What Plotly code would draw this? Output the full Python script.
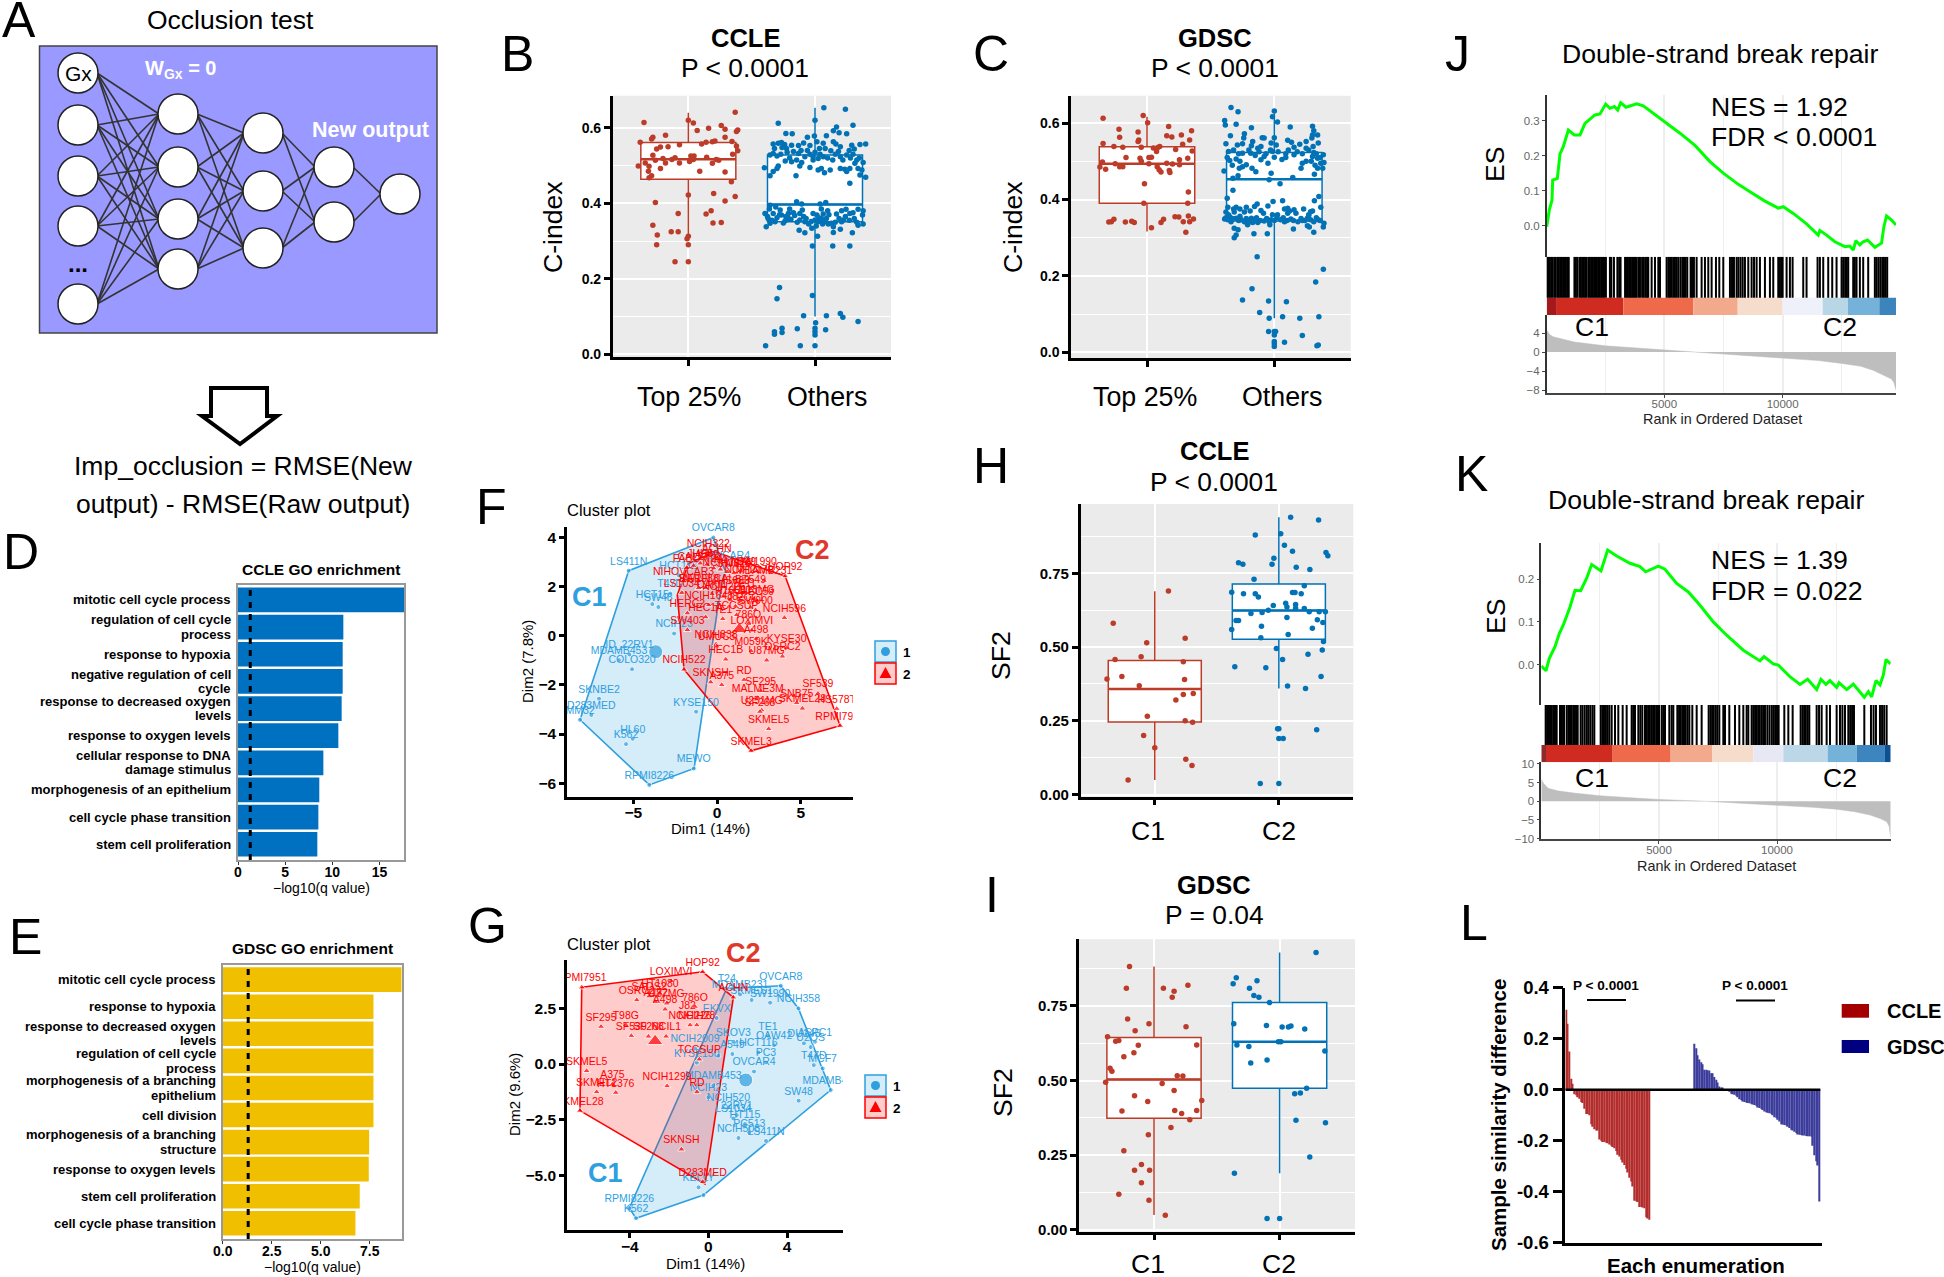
import plotly.graph_objects as go

W, H = 1944, 1277
FONT = "Liberation Sans"
RED, BLUE = "#BC3C29", "#0072B5"
CRED, CBLUE = "#FF0000", "#2E9FDF"

# ---------- B: C-index CCLE (jitter offset from category, value)
B_TOP = [(.37,.641),(-.35,.614),(0,.62),(.04,.613),(.07,.593),(.16,.599),(.26,.606),(.29,.596),(.39,.594),(.38,.59),(-.18,.58),(-.28,.575),(-.29,.57),(.29,.575),(-.38,.562),(-.22,.549),(-.25,.544),(-.16,.55),(-.07,.555),(.105,.557),(.14,.562),(.19,.563),(.21,.565),(.345,.564),(.38,.552),(.39,.539),(.35,.53),(-.28,.527),(-.26,.514),(-.2,.519),(-.13,.516),(-.105,.521),(.02,.525),(.045,.525),(.04,.516),(.01,.511),(.145,.522),(.22,.516),(.24,.514),(.19,.506),(-.18,.507),(-.07,.507),(-.34,.507),(-.395,.499),(-.31,.498),(-.22,.492),(-.315,.485),(.09,.485),(.29,.483),(-.29,.473),(-.31,.468),(.34,.457),(-.26,.402),(0,.422),(.2,.426),(.37,.418),(.29,.406),(-.08,.373),(.18,.38),(.14,.372),(.195,.348),(.26,.349),(-.28,.342),(-.245,.316),(-.135,.325),(-.08,.325),(0,.313),(-.01,.306),(-.25,.29),(0,.29),(-.105,.245),(0,.245)]
B_OTH = [(-.39,.023),(-.116,.023),(0,.023),(0,.051),(0,.06),(0,.069),(.005,.084),(.084,.065),(.34,.087),(.22,.098),(.2,.108),(.09,.102),(-.09,.102),(-.14,.068),(-.26,.069),(-.26,.058),(-.32,.06),(-.32,.053),(-.3,.147),(-.28,.177),(-.02,.156),
(.07,.653),(.24,.649),(0,.62),(-.29,.612),(.3,.607),(.17,.602),(.145,.592),(.19,.587),(.25,.584),(-.23,.585),(-.18,.584),(.09,.579),(-.005,.578),(-.06,.575),
(-.33,.557),(-.29,.559),(-.265,.561),(-.24,.556),(-.225,.545),(-.185,.554),(-.13,.553),(-.04,.553),(.015,.563),(.035,.545),(.065,.559),(.145,.563),(.165,.557),(.29,.554),(.31,.544),(.355,.556),(.4,.557),(.125,.539),
(-.355,.528),(-.33,.532),(-.17,.537),(-.13,.532),(-.08,.523),(-.04,.53),(-.015,.523),(.025,.519),(.065,.523),(.185,.537),(.2,.523),(.25,.528),(.33,.515),(-.235,.512),(-.185,.51),(-.145,.515),(-.105,.508),(-.015,.515),(.315,.506),(.38,.508),
(-.4,.494),(-.3,.492),(-.29,.499),(-.12,.499),(-.04,.495),(.025,.488),(.05,.492),(.075,.481),(.12,.488),(.2,.492),(.235,.49),(.25,.484),(.275,.492),(.34,.492),(.37,.488),(.4,.469),(.355,.475),(-.33,.484),(-.355,.473),(-.15,.473),(.275,.453),
(-.145,.404),(-.105,.398),(.04,.398),(.085,.402),(-.355,.395),
(-.395,.373),(-.375,.365),(-.33,.373),(-.275,.382),(-.265,.369),(-.21,.373),(-.17,.375),(-.12,.373),(-.09,.365),(-.015,.373),(.015,.369),(.065,.372),(.17,.372),(.245,.384),(.275,.373),(.3,.375),(.34,.384),(.38,.38),(.375,.369),
(-.385,.338),(-.355,.347),(-.315,.351),(-.235,.354),(-.21,.36),(-.12,.356),(-.08,.351),(-.05,.345),(0,.356),(.025,.351),(.05,.36),(.08,.351),(.105,.345),(.145,.338),(.13,.347),(.21,.351),(.225,.356),(.34,.342),(.38,.345),
(-.125,.329),(-.08,.322),(-.025,.334),(.02,.313),(.145,.323),(.2,.331),(.295,.322),(-.02,.287),(.14,.287),(.275,.287),
(-.37,.36),(-.34,.355),(-.3,.362),(-.28,.37),(-.25,.348),(-.23,.365),(-.19,.358),(-.16,.368),(-.14,.35),(-.07,.36),(-.03,.352),(.01,.34),(.03,.362),(.06,.345),(.09,.36),(.11,.37),(.16,.35),(.19,.36),(.24,.365),(.27,.355),(.31,.36),(.33,.35),(-.36,.385),(-.31,.39),(-.2,.385),(-.1,.382),(.05,.385),(.1,.38),(.21,.38),
(-.3,.525),(-.27,.53),(-.22,.535),(-.2,.52),(-.11,.54),(-.06,.54),(0,.535),(.04,.53),(.1,.52),(.14,.515),(.16,.53),(.22,.515),(.28,.52),(.3,.53),(.35,.52),(-.32,.545),(-.26,.548),(-.09,.56),(.08,.545),(.2,.55),(.27,.54)]
B_BOX = [dict(q3=.561, med=.517, q1=.464, hi=.64, lo=.31), dict(q3=.528, med=.397, q1=.351, hi=.653, lo=.1)]

# ---------- C: C-index GDSC
C_TOP = [(-.345,.613),(-.03,.62),(.005,.601),(.17,.591),(-.22,.584),(.35,.58),(-.07,.577),(-.215,.563),(.155,.567),(.195,.564),(.27,.569),(-.065,.556),(-.07,.552),(.335,.556),(-.345,.547),(.28,.545),(-.26,.539),(-.19,.537),(-.045,.537),(.1,.539),(.085,.536),(.05,.535),(.075,.526),(.225,.531),(.355,.527),(-.165,.51),(-.055,.508),(.035,.511),(.015,.51),(.32,.508),(.255,.504),(-.35,.498),(-.25,.494),(-.045,.5),(.015,.494),(.155,.495),(.2,.493),(.255,.491),(-.37,.485),(-.215,.486),(-.19,.486),(.08,.486),(.095,.478),(.11,.472),(.175,.476),(.18,.471),(-.325,.479),(-.02,.441),(.325,.42),(-.025,.39),(.32,.39),(-.3,.341),(-.28,.342),(-.26,.348),(-.17,.341),(-.12,.343),(-.1,.34),(.035,.326),(.11,.34),(.13,.348),(.22,.355),(.25,.354),(.285,.342),(.325,.357),(.365,.349),(.335,.342),(.305,.314)]
C_OTH = [(.385,.217),(.325,.184),(-.135,.25),(-.175,.166),(-.25,.137),(-.045,.134),(.095,.132),(-.115,.104),(-.04,.089),(.065,.093),(.2,.089),(.35,.093),(-.045,.054),(0,.054),(.01,.054),(0,.045),(.22,.044),(0,.028),(0,.022),(0,.015),(.08,.026),(.345,.019),(.335,.017),
(-.34,.641),(-.285,.63),(0,.632),(-.015,.617),(-.39,.607),(-.385,.595),(-.3,.597),(.025,.603),(-.18,.588),(.125,.59),(.3,.592),(.31,.58),(.34,.569),(.3,.569),(.295,.561),(-.235,.572),(-.345,.567),(-.24,.561),(-.17,.552),(-.095,.562),(-.08,.561),(0,.562),(.105,.555),(.135,.55),(.2,.545),(.25,.552),(.345,.548),(-.38,.546),(-.29,.543),(-.25,.546),(-.18,.541),(-.13,.534),(-.105,.539),(-.025,.548),(.015,.543),(.155,.537),(.25,.534),(.305,.539),
(-.36,.526),(-.185,.521),(-.25,.521),(-.065,.52),(-.015,.526),(.09,.52),(.155,.517),(.22,.52),(.31,.523),(.385,.517),(.34,.508),(-.35,.502),(-.3,.506),(-.105,.504),(-.08,.513),(.09,.51),(0,.511),(.22,.495),(.3,.513),(.39,.497),(.365,.495),
(-.22,.491),(-.25,.486),(-.275,.482),(-.175,.482),(-.05,.495),(.21,.482),(.34,.482),(.38,.482),(-.395,.475),(-.145,.473),(-.025,.469),(.315,.466),(-.285,.462),(-.325,.456),(-.04,.452),(.145,.458),(.045,.441),(-.325,.424),(-.37,.403),(.35,.408),(.315,.397),(.065,.397),(-.01,.395),(-.05,.383),
(-.365,.38),(-.3,.38),(-.22,.38),(-.155,.382),(-.135,.388),(.365,.38),(.105,.377),(-.38,.367),(-.315,.367),(-.235,.367),(-.105,.371),(-.085,.364),(.155,.373),(.17,.364),(.285,.368),(.27,.36),(-.015,.36),(.025,.36),(.105,.364),
(-.39,.349),(-.365,.347),(-.34,.342),(-.3,.351),(-.26,.347),(-.235,.342),(-.21,.336),(-.18,.351),(-.155,.347),(-.13,.34),(-.08,.344),(-.025,.347),(.05,.347),(.08,.342),(.13,.349),(.185,.342),(.22,.345),(.26,.351),(.285,.347),(.31,.342),(.345,.347),(.39,.338),(.385,.328),
(-.315,.325),(-.285,.321),(-.21,.334),(.15,.323),(.26,.331),(.275,.328),(.31,.314),(-.16,.31),(-.055,.31),(-.3,.307),(-.315,.3),(-.035,.334),
(-.38,.352),(-.35,.355),(-.33,.35),(-.28,.345),(-.27,.356),(-.22,.35),(-.2,.345),(-.17,.34),(-.14,.352),(-.11,.345),(-.06,.35),(-.04,.342),(0,.345),(.02,.352),(.07,.352),(.1,.345),(.15,.345),(.21,.35),(.24,.345),(.27,.358),(.33,.352),(.36,.345),(-.36,.36),(-.32,.375),(-.27,.375),(-.19,.37),(.08,.375),(.12,.37),(.23,.375),(.3,.37),
(-.32,.53),(-.28,.52),(-.2,.53),(-.15,.515),(-.12,.525),(-.03,.53),(.03,.525),(.06,.505),(.11,.53),(.18,.525),(.27,.53),(.29,.5),(.33,.52),(.36,.51),(-.37,.51),(-.33,.49),(-.27,.5),(.25,.5),(.32,.49)]
C_BOX = [dict(q3=.538, med=.494, q1=.39, hi=.617, lo=.316), dict(q3=.523, med=.453, q1=.344, hi=.626, lo=.089)]
GROUPS_TOP = ["Top 25%", "Others"]

# ---------- H / I: SF2
H_C1 = [(.11,.69),(-.335,.581),(-.065,.515),(.245,.53),(-.32,.458),(-.11,.467),(.23,.45),(-.385,.392),(-.265,.4),(.24,.39),(-.125,.369),(.31,.343),(.23,.339),(.17,.321),(-.06,.266),(.245,.25),(.305,.245),(-.09,.2),(0,.159),(.25,.12),(.3,.099),(-.215,.05)]
H_C2 = [(.095,.94),(.32,.931),(-.19,.88),(.015,.884),(.045,.845),(.11,.825),(.38,.821),(.395,.81),(-.04,.801),(-.325,.786),(-.29,.781),(-.055,.781),(.14,.771),(.25,.763),(-.2,.73),(.205,.708),(-.38,.686),(-.285,.681),(-.19,.681),(-.165,.67),(.11,.685),(.13,.685),(.18,.681),(-.045,.641),(.055,.649),(.065,.636),(.135,.644),(.135,.632),(.205,.631),(-.085,.625),(-.225,.614),(-.135,.617),(.245,.62),(.325,.62),(.375,.62),(.065,.6),(.31,.593),(-.345,.59),(-.325,.59),(.355,.583),(-.14,.571),(-.38,.56),(.27,.564),(-.145,.532),(.075,.543),(.36,.519),(-.02,.495),(.35,.49),(.235,.476),(.03,.458),(-.355,.433),(-.105,.43),(.34,.4),(.07,.368),(.215,.36),(-.01,.223),(0,.223),(.305,.22),(0,.19),(.035,.19),(-.15,.038),(0,.038)]
H_BOX = [dict(q3=.455, med=.358, q1=.246, hi=.689, lo=.05), dict(q3=.714, med=.624, q1=.527, hi=.94, lo=.36)]
I_C1 = [(-.195,.882),(.27,.819),(-.22,.809),(.075,.809),(.16,.799),(.145,.779),(-.21,.706),(-.04,.69),(.255,.68),(-.15,.667),(-.37,.647),(-.305,.632),(-.28,.634),(-.125,.618),(.34,.619),(-.16,.593),(-.24,.58),(-.35,.541),(-.335,.531),(.185,.516),(.23,.515),(-.385,.494),(.065,.49),(.16,.467),(-.155,.449),(.38,.433),(-.05,.43),(-.255,.398),(.165,.4),(.34,.4),(.22,.39),(.285,.369),(.135,.343),(-.045,.319),(-.24,.265),(-.1,.219),(-.155,.2),(-.035,.2),(-.1,.158),(-.28,.119),(-.04,.099),(.09,.049)]
I_C2 = [(.29,.929),(-.345,.844),(-.18,.834),(-.37,.824),(-.24,.809),(-.205,.785),(-.165,.779),(-.08,.761),(-.365,.69),(-.105,.684),(.02,.679),(.07,.679),(.09,.683),(.2,.673),(-.01,.63),(.01,.63),(-.34,.619),(-.245,.614),(.36,.599),(-.1,.569),(-.23,.559),(.215,.474),(.165,.458),(.12,.456),(.13,.367),(.365,.359),(.24,.244),(-.36,.19),(-.1,.038),(0,.038)]
I_BOX = [dict(q3=.644, med=.504, q1=.374, hi=.882, lo=.05), dict(q3=.761, med=.63, q1=.474, hi=.929, lo=.19)]
GROUPS_C = ["C1", "C2"]

# ---------- D / E: GO enrichment
D_TERMS = ["mitotic cell cycle process","regulation of cell cycle<br>process","response to hypoxia","negative regulation of cell<br>cycle","response to decreased oxygen<br>levels","response to oxygen levels","cellular response to DNA<br>damage stimulus","morphogenesis of an epithelium","cell cycle phase transition","stem cell proliferation"]
D_VALS = [17.6,11.17,11.1,11.1,10.99,10.64,9.05,8.62,8.52,8.41]
E_TERMS = ["mitotic cell cycle process","response to hypoxia","response to decreased oxygen<br>levels","regulation of cell cycle<br>process","morphogenesis of a branching<br>epithelium","cell division","morphogenesis of a branching<br>structure","response to oxygen levels","stem cell proliferation","cell cycle phase transition"]
E_VALS = [9.13,7.69,7.69,7.69,7.69,7.69,7.47,7.45,6.99,6.77]
Q_CUTOFF = 1.3

# ---------- F / G: cluster plots (name, Dim1, Dim2)
F_C1 = [("OVCAR8",-.22,4.0),("LS411N",-5.27,2.65),("HCT116",-2.3,2.47),("T47D",-2.8,1.72),("HCT15",-3.86,1.29),("SW48",-3.5,1.17),("NCIH23",-2.56,.09),("ID_22RV1",-5.23,-.76),("MDAMB453",-5.85,-.99),("COLO320",-5.07,-1.36),("SKNBE2",-7.04,-2.56),("D283MED",-7.5,-3.22),("MM32",-8.17,-3.42),("HL60",-5.03,-4.19),("K562",-5.43,-4.41),("KYSE150",-1.25,-3.09),("MEWO",-1.39,-5.4),("RPMI8226",-4.04,-6.07),("OVCAR4",.68,2.88),("",.08,1.32)]
F_C2 = [("NCIH322",-.52,3.38),("ACHN",-.02,3.18),("FADU",-1.81,2.77),("NIHOVCAR3",-2.0,2.22),("SW1990",2.37,2.63),("HOP92",4.06,2.43),("NCIH596",4.02,.73),("HERC2",-1.77,.92),("HEC1A",-.68,.76),("SW403",-1.77,.24),("TCCSUP",1.17,.85),("TE1",.34,.69),("786O",1.87,.49),("LOXIMVI",2.07,.22),("NCIH838",-.06,-.34),("UMUC3",-.02,-.43),("A498",2.33,-.12),("KYSE30",4.15,-.5),("M059K",2.03,-.62),("OSRC2",3.9,-.84),("HEC1B",.52,-.96),("U87MG",2.96,-1.0),("NCIH522",-1.97,-1.37),("SKNSH",-.38,-1.89),("A375",.28,-2.0),("RD",1.61,-1.79),("SF295",2.6,-2.24),("MALME3M",2.43,-2.52),("SF539",6.02,-2.35),("SNB75",4.75,-2.73),("SKMEL28",5.09,-2.96),("HS578T",7.14,-2.97),("U251MG",2.66,-3.03),("SF268",2.56,-3.09),("RPMI7951",7.34,-3.66),("SKMEL5",3.08,-3.79),("SKMEL3",2.03,-4.68),
("CAL27",-1.4,2.85),("JHH5",-1,2.95),("A549",-.6,2.9),("T24",-.2,2.75),("H4",.2,2.7),("NCIH1975",.6,2.6),("SW620",1,2.55),("LN229",1.4,2.65),("MDAMB231",2.8,2.25),("NCIH2170",1.9,2.3),("SW1088",-1.1,1.95),("RERFLCAI",-.7,1.95),("LS1034",-2.1,1.75),("CAKI1",-.3,1.7),("NCIH226",.4,1.6),("HS683",1.0,1.85),("TE11",1.6,1.75),("BT549",2,1.9),("U118MG",2.2,1.5),("HEC59",2.4,1.4),("NCIH1648",-.5,1.25),("J82",1.1,1.2),("H1650",.8,1.45),("ECC1",2.0,1.15),("SW900",2.3,1.05)]
F_HULL1 = [(-.22,4.0),(-5.27,2.65),(-8.17,-3.42),(-4.04,-6.07),(-1.37,-5.4),(.08,1.32),(.48,2.67)]
F_HULL2 = [(4.06,2.43),(7.34,-3.66),(2.03,-4.68),(-1.97,-1.37),(-2.37,1.66),(-1.71,2.94),(-.12,3.42)]
F_CENTERS = [(-3.66,-.65),(1.33,.27)]
G_C2 = [("HOP92",-.29,4.15),("LOXIMVI",-1.9,3.74),("RPMI7951",-6.44,3.45),("HT1080",-2.46,3.18),("SAOS2",-3.02,3.05),("OSRC2",-3.64,2.88),("U87MG",-2.12,2.73),("A172",-2.68,2.8),("A498",-2.2,2.46),("786O",-.68,2.58),("J82",-1.07,2.2),("NCIH226",-.93,1.75),("NCIH28",-.59,1.75),("T98G",-4.2,1.76),("SF295",-5.46,1.68),("SF539",-3.92,1.27),("SF268",-3.05,1.24),("NCIL1",-2.15,1.24),("TCCSUP",-.46,.21),("SKMEL5",-6.19,-.31),("A375",-4.88,-.91),("SKMEL2",-5.68,-1.26),("HT1376",-4.71,-1.29),("NCIH1299",-2.1,-.99),("RD",-.58,-1.26),("SKMEL28",-6.53,-2.1),("SKNSH",-1.37,-3.84),("D283MED",-.29,-5.3),("ACHN",1.27,3.0)]
G_C1 = [("T24",.93,3.4),("MDAMB231",1.61,3.13),("OVCAR8",3.68,3.52),("SW1990",3.14,2.76),("SKMES1",2.2,2.88),("NCIH358",4.58,2.5),("EKVX",.42,2.07),("SKOV3",1.27,1.0),("TE1",3.03,1.27),("OAW42",3.34,.85),("DU145",4.86,.93),("ASPC1",5.42,1.0),("U2OS",5.2,.76),("NCIH2009",-.68,.7),("HCT116",2.54,.52),("A549",1.22,.45),("PC3",2.93,.07),("T47D",5.36,-.05),("MCF7",5.81,-.2),("KYSE150",-.59,.06),("",.51,.37),("OVCAR4",2.32,-.34),("MDAMB468",6.22,-1.17),("MDAMB453",.25,-.97),("SW48",4.59,-1.65),("NCIH23",0,-1.5),("NCIH520",1.02,-1.95),("22RV1",1.44,-2.3),("LS1034",1.27,-2.45),("HT115",1.86,-2.7),("PC513",2.08,-3.09),("LS411N",2.93,-3.46),("NCIH508",1.53,-3.33),("KELLY",-.5,-5.55),("RPMI8226",-4.02,-6.49),("K562",-3.68,-6.94),("",-.25,-5.9)]
G_HULL1 = [(.93,3.4),(3.68,3.52),(4.58,2.5),(6.22,-1.17),(-.25,-5.9),(-3.68,-6.94),(-4.02,-6.49)]
G_HULL2 = [(-6.44,3.45),(-.29,4.15),(1.27,3.0),(-.17,-5.4),(-6.53,-2.1)]
G_CENTERS = [(1.9,-.72),(-2.71,1.03)]

# ---------- J / K: GSEA
J_ES_RANK = [28,140,253,281,478,591,732,943,1197,1436,1647,2069,2280,2520,2703,2886,3027,3154,3379,3829,4110,4533,5096,5659,6293,6927,7491,8124,8617,9251,9814,10026,10448,11010,11503,11574,11855,12207,12630,12841,12982,13094,13263,13404,13587,13897,14179,14278,14390,14601,14789]
J_ES = [-.003,.045,.073,.13,.135,.205,.226,.273,.259,.259,.292,.316,.319,.347,.335,.34,.33,.351,.338,.348,.342,.321,.292,.264,.229,.183,.15,.118,.097,.07,.05,.054,.035,.005,-.027,-.014,-.027,-.046,-.06,-.058,-.07,-.043,-.055,-.046,-.041,-.062,-.05,-.003,.028,.016,.002]
J_HITS = [40,100,160,220,280,352,408,480,540,600,660,720,780,840,900,960,1200,1260,1320,1410,1470,1530,1590,1650,1710,1790,1850,1910,1970,2030,2090,2150,2210,2270,2330,2390,2450,2530,2700,2760,2870,3015,3090,3150,3340,3400,3460,3520,3580,3640,3700,3760,3820,3900,3970,4060,4130,4200,4270,4320,4463,4604,4745,4815,5096,5170,5240,5310,5378,5448,5520,5590,5680,5760,5830,5900,5969,6110,6170,6250,6364,6575,6716,6857,6998,7181,7322,7491,7773,7860,7942,8054,8130,8220,8310,8406,8547,8688,8790,8899,9040,9251,9462,9603,9814,9880,9940,10000,10166,10307,10420,10870,11010,11475,11574,11715,11926,12095,12278,12490,12560,12640,12710,12771,12982,13050,13122,13263,13404,13615,13897,13970,14050,14130,14210,14280,14350,14418]
J_STRIP_EDGES = [28,423,3268,6225,8099,10000,11690,12761,14085,14789]
J_STRIP_COLORS = ["#a5191c","#cf2b21","#ee6a4a","#f2a98c","#f6dccb","#eef0fa","#b9d6e6","#75b2d9","#3b84bc"]
J_METRIC_RANK = [30,150,300,600,1200,2500,3800,5000,6650,8300,10000,11500,12500,13300,13850,14300,14600,14700,14760,14789]
J_METRIC = [4.6,3.7,3.2,2.8,2.1,1.3,.85,.5,0,-.6,-1.2,-1.8,-2.4,-3.0,-3.9,-4.9,-5.7,-6.4,-7.2,-8.0]
K_ES_RANK = [14,212,354,594,777,947,1230,1442,1682,1936,2148,2543,2825,3207,3772,4195,4435,4972,5254,5748,6243,6737,7302,7866,8572,9278,9448,9843,10055,10549,10973,11298,11679,11862,12074,12244,12526,12625,12950,13232,13698,13868,14009,14192,14361,14503,14616,14814]
K_ES = [-.003,-.014,.015,.042,.073,.093,.135,.174,.173,.202,.234,.219,.268,.254,.237,.229,.217,.23,.223,.19,.17,.139,.1,.069,.034,.009,.019,.002,-.001,-.028,-.046,-.034,-.058,-.034,-.046,-.037,-.053,-.042,-.058,-.045,-.076,-.063,-.075,-.037,-.047,-.024,.012,.002]
K_HITS = [199,260,320,383,453,520,594,665,806,890,976,1089,1160,1230,1300,1370,1440,1500,1555,1682,1760,1850,1936,2006,2090,2180,2260,2529,2600,2670,2750,2820,2896,2995,3136,3277,3461,3630,3842,3910,3983,4125,4210,4294,4407,4470,4540,4610,4680,4750,4820,4890,4950,5000,5113,5180,5254,5438,5537,5607,5777,5850,5920,5990,6060,6130,6210,6285,6412,6596,6807,7104,7180,7250,7320,7400,7471,7556,7725,7796,7979,8219,8403,8572,8713,8784,8925,8996,9070,9140,9208,9250,9330,9410,9490,9589,9680,9773,9843,9920,10000,10069,10309,10479,10662,11001,11080,11150,11220,11300,11368,11679,11780,11891,12102,12244,12526,12667,12770,12879,13020,13100,13180,13260,13698,13980,14090,14192,14361,14450,14540,14644]
K_STRIP_EDGES = [14,213,3037,5494,7245,8996,10267,12145,13373,14573,14816]
K_STRIP_COLORS = ["#8b2a2f","#cf2b21","#ee6a4a","#f2a98c","#f6dccb","#e8e8f5","#bcd7e8","#75b2d9","#3d85be","#0f4f93"]
K_METRIC_RANK = [14,120,300,700,1400,2500,3800,5000,7020,8500,10000,11500,12500,13300,13950,14400,14650,14750,14816]
K_METRIC = [5.9,4.7,3.5,2.8,2.2,1.5,.95,.5,0,-.5,-1,-1.6,-2.1,-2.8,-3.7,-4.7,-5.5,-6.7,-9.7]

# ---------- L: sample similarity
L_CCLE = [.314,.259,.15,.043,.023,-.018,-.022,-.03,-.035,-.048,-.052,-.075,-.095,-.095,-.1,-.135,-.145,-.155,-.16,-.16,-.195,-.2,-.205,-.205,-.208,-.21,-.215,-.22,-.225,-.23,-.24,-.255,-.262,-.275,-.285,-.295,-.31,-.325,-.345,-.36,-.38,-.435,-.437,-.44,-.46,-.46,-.462,-.465,-.5,-.505,-.51]
L_GDSC = [.18,.163,.135,.118,.108,.1,.078,.078,.076,.075,.065,.065,.05,.039,.028,.013,.009,.009,0,0,0,-.005,-.016,-.018,-.02,-.024,-.03,-.037,-.04,-.046,-.048,-.05,-.052,-.053,-.055,-.058,-.06,-.063,-.07,-.072,-.075,-.08,-.085,-.088,-.09,-.092,-.094,-.1,-.108,-.11,-.118,-.125,-.135,-.136,-.138,-.14,-.145,-.15,-.157,-.16,-.165,-.17,-.176,-.177,-.178,-.18,-.18,-.182,-.183,-.183,-.184,-.22,-.257,-.281,-.297,-.438]
L_GAP_BARS = 26

# ---------- A: network schematic (layer x, node y in page pixels)
NET_X = [78, 178, 263, 334, 400]
NET_Y = [[73,125,176,226,304],[114,167,219,269],[133,191,248],[167,222],[194]]

fig = go.Figure()
layout = {}
shapes, notes = [], []
axis_no = 0

def fx(x): return x / W
def fy(y): return 1 - y / H

def text(s, x, y, size, bold=False, color="black", anchor="center", angle=0):
    notes.append(dict(text=f"<b>{s}</b>" if bold else s, x=fx(x), y=fy(y), xref="paper", yref="paper",
                      xanchor=anchor, yanchor="middle", showarrow=False, textangle=angle,
                      font=dict(family=FONT, size=size, color=color)))

def rect(x0, y0, x1, y1, fill, line="rgba(0,0,0,0)", lw=1):
    shapes.append(dict(type="rect", xref="paper", yref="paper", x0=fx(x0), x1=fx(x1), y0=fy(y0), y1=fy(y1),
                       fillcolor=fill, line=dict(color=line, width=lw)))

def circle(cx, cy, r, fill, line="rgba(0,0,0,0)", lw=1):
    shapes.append(dict(type="circle", xref="paper", yref="paper", x0=fx(cx-r), x1=fx(cx+r), y0=fy(cy-r), y1=fy(cy+r),
                       fillcolor=fill, line=dict(color=line, width=lw)))

def poly(pts, fill, line="rgba(0,0,0,0)", lw=1):
    p = "M " + " L ".join(f"{fx(a):.5f} {fy(b):.5f}" for a, b in pts) + " Z"
    shapes.append(dict(type="path", xref="paper", yref="paper", path=p, fillcolor=fill, line=dict(color=line, width=lw)))

def hline(x0, x1, y, color="black", lw=2):
    shapes.append(dict(type="line", xref="paper", yref="paper", x0=fx(x0), x1=fx(x1), y0=fy(y), y1=fy(y), line=dict(color=color, width=lw)))

def axes(box, xopts, yopts):
    global axis_no
    axis_no += 1
    x0, y0, x1, y1 = box
    n = axis_no
    xa = dict(domain=[fx(x0), fx(x1)], anchor=f"y{n}", showgrid=False, zeroline=False, tickfont=dict(family=FONT, size=14, color="black"))
    ya = dict(domain=[fy(y1), fy(y0)], anchor=f"x{n}", showgrid=False, zeroline=False, tickfont=dict(family=FONT, size=14, color="black"))
    xa.update(xopts); ya.update(yopts)
    layout[f"xaxis{n}"] = xa
    layout[f"yaxis{n}"] = ya
    return f"x{n}", f"y{n}"

def boxpanel(box, xr, yr, yticks, yfmt, minor, sets, boxes, tfs):
    xid, yid = axes(box,
        dict(range=xr, tickvals=[0, 1], showticklabels=False, ticks="outside", ticklen=6, tickwidth=2.5, tickcolor="black",
             showline=True, linecolor="black", linewidth=2.5, showgrid=True, gridcolor="white", gridwidth=1.5),
        dict(range=yr, tickvals=yticks, ticktext=[f"<b>{v:{yfmt}}</b>" for v in yticks], ticks="outside", ticklen=6, tickwidth=2.5,
             tickcolor="black", showline=True, linecolor="black", linewidth=2.5, showgrid=True, gridcolor="white", gridwidth=1.5,
             tickfont=dict(family=FONT, size=tfs, color="black"),
             minor=dict(tickvals=minor, showgrid=True, gridcolor="white", gridwidth=.8, ticks="")))
    rect(box[0], box[1], box[2], box[3], "#EBEBEB")
    shapes[-1]["layer"] = "below"
    for i, (pts, b, col) in enumerate(zip(sets, boxes, (RED, BLUE))):
        fig.add_trace(go.Box(x=[i], q1=[b["q1"]], median=[b["med"]], q3=[b["q3"]], lowerfence=[b["lo"]], upperfence=[b["hi"]],
                             width=.75, whiskerwidth=0, boxpoints=False, fillcolor="white", line=dict(color=col, width=1.5),
                             xaxis=xid, yaxis=yid, showlegend=False))
        fig.add_trace(go.Scatter(x=[i-.375, i+.375], y=[b["med"]]*2, mode="lines", line=dict(color=col, width=2.5), xaxis=xid, yaxis=yid, showlegend=False))
        fig.add_trace(go.Scatter(x=[i+p[0] for p in pts], y=[p[1] for p in pts], mode="markers",
                                 marker=dict(color=col, size=5.5), xaxis=xid, yaxis=yid, showlegend=False))

def gopanel(box, xr, xticks, xlabels, terms, vals, color, yr):
    xid, yid = axes(box,
        dict(range=xr, tickvals=xticks, ticktext=[f"<b>{t}</b>" for t in xlabels], ticks="outside", ticklen=3, tickcolor="#333",
             showline=True, linecolor="#999", linewidth=2, mirror=True, ticklabelstandoff=-5),
        dict(range=yr, showticklabels=False, ticks="", showline=True, linecolor="#999", linewidth=2, mirror=True))
    idx = list(range(len(vals)))
    fig.add_trace(go.Bar(x=vals, y=idx, orientation="h", width=.91, marker=dict(color=color, line=dict(width=0)), xaxis=xid, yaxis=yid, showlegend=False))
    fig.add_trace(go.Scatter(x=[Q_CUTOFF]*2, y=yr, mode="lines", line=dict(color="black", width=3, dash="6px,6px"), xaxis=xid, yaxis=yid, showlegend=False))
    for i, t in enumerate(terms):
        lines = t.split("<br>")
        for j, ln in enumerate(lines):
            notes.append(dict(text=f"<b>{ln}</b>", x=0, y=i, xref=xid, yref=yid, xanchor="right", yanchor="middle", xshift=-5,
                              yshift=-(j-(len(lines)-1)/2)*14.3, showarrow=False, font=dict(family=FONT, size=13, color="black")))

def clusterpanel(box, xr, yr, xticks, yticks, yfmt, c1, c2, h1, h2, centers, standoff):
    xid, yid = axes(box,
        dict(range=xr, tickvals=xticks, ticktext=[f"<b>{str(v).replace('-', '−')}</b>" for v in xticks], ticks="outside", ticklen=5, tickwidth=2.5,
             tickcolor="black", showline=True, linecolor="black", linewidth=2.5, tickfont=dict(family=FONT, size=15.5, color="black"), ticklabelstandoff=standoff),
        dict(range=yr, tickvals=yticks, ticktext=[f"<b>{format(v, yfmt).replace('-', '−')}</b>" for v in yticks], ticks="outside", ticklen=5, tickwidth=2.5,
             tickcolor="black", showline=True, linecolor="black", linewidth=2.5, tickfont=dict(family=FONT, size=15.5, color="black")))
    for hull, col, fc in ((h1, CBLUE, "rgba(46,159,223,.2)"), (h2, CRED, "rgba(255,0,0,.2)")):
        fig.add_trace(go.Scatter(x=[p[0] for p in hull]+[hull[0][0]], y=[p[1] for p in hull]+[hull[0][1]], mode="lines", fill="toself", fillcolor=fc,
                                 line=dict(color=col, width=1.6), xaxis=xid, yaxis=yid, showlegend=False))
    # label sits 8.7 px above its point; labels crossing the panel top stay whole, side ones are clipped as in the source
    lift = 8.7 * (yr[1]-yr[0]) / (box[3]-box[1])
    half = 6 * (yr[1]-yr[0]) / (box[3]-box[1])
    for pts, col, sym, sz, cen in ((c1, CBLUE, "circle", 5, centers[0]), (c2, CRED, "triangle-up", 6.5, centers[1])):
        named = [p for p in pts if p[0]]
        xs, ys = [p[1] for p in pts]+[cen[0]], [p[2] for p in pts]+[cen[1]]
        fig.add_trace(go.Scatter(x=xs, y=ys, mode="markers", marker=dict(color=col, size=[sz]*len(pts)+[14], symbol=sym), xaxis=xid, yaxis=yid, showlegend=False))
        for clip in (True, False):
            group = [p for p in named if (p[2]+lift+half < yr[1]) == clip]
            if group:
                fig.add_trace(go.Scatter(x=[p[1] for p in group], y=[p[2]+lift for p in group], text=[p[0] for p in group], mode="text", textposition="middle center", cliponaxis=clip,
                                         textfont=dict(family=FONT, size=10.5, color=col), xaxis=xid, yaxis=yid, showlegend=False))

def gsea(boxes, xr, es_r, es, es_range, es_ticks, es_fmt, hits, edges, colors, strip_frac, m_r, m, m_range, m_ticks):
    grid = dict(showgrid=True, gridcolor="#eeeeee", gridwidth=1.5)
    minor = dict(tickvals=[2500, 7500, 12500], showgrid=True, gridcolor="#eeeeee", gridwidth=1.2, ticks="")
    tf = dict(family=FONT, size=11.5, color="#666")
    xid, yid = axes(boxes[0], dict(range=xr, tickvals=[5000, 10000], showticklabels=False, ticks="", minor=minor, **grid),
                    dict(range=es_range, tickvals=es_ticks, ticktext=[format(v, es_fmt) for v in es_ticks], ticks="outside", ticklen=3, tickcolor="#444",
                         showline=True, linecolor="#333", linewidth=1.5, tickfont=tf))
    fig.add_trace(go.Scatter(x=es_r, y=es, mode="lines", line=dict(color="#00ff00", width=3), xaxis=xid, yaxis=yid, showlegend=False))
    xid, yid = axes(boxes[1], dict(range=xr, visible=False), dict(range=[0, 1], visible=False))
    mids = [(a+b)/2 for a, b in zip(edges, edges[1:])]
    widths = [b-a for a, b in zip(edges, edges[1:])]
    fig.add_trace(go.Bar(x=mids, y=[strip_frac]*len(mids), width=widths, marker=dict(color=colors, line=dict(width=0)), xaxis=xid, yaxis=yid, showlegend=False))
    hx, hy = [], []
    for h in hits:
        hx += [h, h, None]; hy += [strip_frac, 1, None]
    fig.add_trace(go.Scatter(x=hx, y=hy, mode="lines", line=dict(color="black", width=2), xaxis=xid, yaxis=yid, showlegend=False))
    xid, yid = axes(boxes[2], dict(range=xr, tickvals=[5000, 10000], ticktext=["5000", "10000"], ticks="outside", ticklen=3, tickcolor="#444", tickfont=tf, showline=True, linecolor="#444", linewidth=2, minor=minor, ticklabelstandoff=-4, **grid),
                    dict(range=m_range, tickvals=m_ticks, ticktext=[str(v).replace("-", "−") for v in m_ticks], ticks="outside", ticklen=3, tickcolor="#444",
                         showline=True, linecolor="#333", linewidth=1.5, tickfont=tf))
    fig.add_trace(go.Scatter(x=m_r, y=m, mode="lines", fill="tozeroy", fillcolor="#bebebe", line=dict(color="#bebebe", width=.5), xaxis=xid, yaxis=yid, showlegend=False))

# ---- panel letters
for s, x, y in [("A",0,20),("B",499,54),("C",971,54),("D",1,552),("E",7,937),("F",474,507),("G",466,926),("H",971,466),("I",983,895),("J",1443,54),("K",1453,474),("L",1458,923)]:
    text(s, x, y, 50, anchor="left")

# ---- A
text("Occlusion test", 230, 20, 26.5)
rect(39.5, 46, 437, 333, "#9999ff", "#444", 1.5)
for i in range(4):
    for ya in NET_Y[i]:
        for yb in NET_Y[i+1]:
            shapes.append(dict(type="line", xref="paper", yref="paper", x0=fx(NET_X[i]+19), x1=fx(NET_X[i+1]-19), y0=fy(ya), y1=fy(yb), line=dict(color="#333", width=1.6)))
for xn, col in zip(NET_X, NET_Y):
    for yn in col:
        circle(xn, yn, 20, "white", "#222", 1.5)
text("Gx", 78, 73, 21)
text("W<sub>Gx</sub> = 0", 181, 69, 20, bold=True, color="white")
text("New output", 370, 130, 21.5, bold=True, color="white")
text("<b>...</b>", 78, 263, 24)
poly([(211,388),(267,388),(267,416),(277,416),(240,444),(202,416),(211,416)], "white", "black", 4)
text("Imp_occlusion = RMSE(New", 243, 466, 26.5)
text("output) - RMSE(Raw output)", 243, 504, 26.5)

# ---- B, C
for box, xr, yr, sets, bx, cat_x, ylab_x, title, title_x in [
    ((612.7,95.7,891,357), [-.597,1.6], [-.007,.685], (B_TOP,B_OTH), B_BOX, (689,827), 553, "CCLE", 745),
    ((1071,95.7,1350.7,358.3), [-.597,1.6], [-.016,.672], (C_TOP,C_OTH), C_BOX, (1145,1282), 1013, "GDSC", 1215)]:
    boxpanel(box, xr, yr, [0,.2,.4,.6], ".1f", [.1,.3,.5], sets, bx, 14)
    text(title, title_x, 38, 25.5, bold=True)
    text("P &lt; 0.0001", title_x, 68, 26.4)
    text("C-index", ylab_x, 227, 26.6, angle=-90)
    for g, cx in zip(GROUPS_TOP, cat_x):
        text(g, cx, 397, 26.8)

# ---- H, I
for box, yr, sets, bx, title, ptxt, ty, py, cy, ly, ylab_x in [
    ((1080.7,504,1353.3,796.7), [-.007,.985], (H_C1,H_C2), H_BOX, "CCLE", "P &lt; 0.0001", 451, 482, 831, 656, 1001),
    ((1079,939.3,1355,1231.7), [-.006,.973], (I_C1,I_C2), I_BOX, "GDSC", "P = 0.04", 885, 915, 1264, 1093, 1003)]:
    boxpanel(box, [-.597,1.6], yr, [0,.25,.5,.75], ".2f", [.125,.375,.625,.875], sets, bx, 15)
    text(title, 1214, ty, 25.5, bold=True)
    text(ptxt, 1214, py, 26.4)
    text("SF2", ylab_x, ly, 26.6, angle=-90)
    for g, cx in zip(GROUPS_C, (1148, 1279)):
        text(g, cx, cy, 26.6)

# ---- D, E
gopanel((238,585.3,404,860), [0,17.6], [0,5,10,15], ["0","5","10","15"], D_TERMS, D_VALS, "#0070C0", [9.58,-.54])
text("CCLE GO enrichment", 321, 569, 15.5, bold=True)
text("−log10(q value)", 321, 888, 14)
gopanel((222.7,964.5,401.7,1239), [0,9.13], [0,2.5,5,7.5], ["0.0","2.5","5.0","7.5"], E_TERMS, E_VALS, "#F0C000", [9.58,-.56])
text("GDSC GO enrichment", 312, 948, 15.5, bold=True)
text("−log10(q value)", 312, 1267, 14)

# ---- F, G
clusterpanel((567,526.7,852.7,796.7), [-8.95,8.09], [-6.55,4.44], [-5,0,5], [-6,-4,-2,0,2,4], "d", F_C1, F_C2, F_HULL1, F_HULL2, F_CENTERS, -5)
text("Cluster plot", 565, 510, 16.5, anchor="left")
text("C1", 589, 597, 27, bold=True, color=CBLUE)
text("C2", 812, 550, 27, bold=True, color="#E0392B")
text("Dim1 (14%)", 710, 828, 15)
text("Dim2 (7.8%)", 527, 662, 15, angle=-90)
clusterpanel((567,960,842.7,1230), [-7.19,6.83], [-7.47,4.68], [-4,0,4], [-5,-2.5,0,2.5], ".1f", G_C1, G_C2, G_HULL1, G_HULL2, G_CENTERS, -4)
text("Cluster plot", 565, 944, 16.5, anchor="left")
text("C2", 743, 953, 27, bold=True, color="#E0392B")
text("C1", 605, 1173, 27, bold=True, color=CBLUE)
text("Dim1 (14%)", 705, 1263, 15)
text("Dim2 (9.6%)", 514, 1095, 15, angle=-90)
for lx, ly in ((875, 641), (865, 1075)):
    rect(lx, ly, lx+21, ly+21, "rgba(46,159,223,.2)", CBLUE, 1.5)
    circle(lx+10.5, ly+10.5, 4.5, CBLUE)
    rect(lx, ly+22, lx+21, ly+43, "rgba(255,0,0,.2)", CRED, 1.5)
    poly([(lx+10.5,ly+26),(lx+16.5,ly+37),(lx+4.5,ly+37)], CRED)
    text("1", lx+26, ly+11, 13.5, bold=True, anchor="left")
    text("2", lx+26, ly+33, 13.5, bold=True, anchor="left")

# ---- J
gsea([(1546.7,95,1896,256.7),(1546.7,256.7,1896,315),(1546.7,315,1896,392.7)], [28,14790], J_ES_RANK, J_ES, [-.0886,.373], [0,.1,.2,.3], ".1f",
     J_HITS, J_STRIP_EDGES, J_STRIP_COLORS, .297, J_METRIC_RANK, J_METRIC, [-8.56,7.79], [-8,-4,0,4])
text("Double-strand break repair", 1720, 54, 26.6)
text("NES = 1.92", 1709, 107, 26.6, anchor="left")
text("FDR &lt; 0.0001", 1709, 137, 26.6, anchor="left")
text("ES", 1495, 165, 26.6, angle=-90)
text("C1", 1592, 327, 26.6); text("C2", 1840, 327, 26.6)
text("Rank in Ordered Dataset", 1722, 419, 14.4, color="#222")

# ---- K
gsea([(1541.3,542.7,1890.7,705),(1541.3,705,1890.7,762.3),(1541.3,762.3,1890.7,839.3)], [14,14816], K_ES_RANK, K_ES, [-.094,.285], [0,.1,.2], ".1f",
     K_HITS, K_STRIP_EDGES, K_STRIP_COLORS, .302, K_METRIC_RANK, K_METRIC, [-10.18,10.45], [-10,-5,0,5,10])
text("Double-strand break repair", 1706, 500, 26.6)
text("NES = 1.39", 1709, 560, 26.6, anchor="left")
text("FDR = 0.022", 1709, 591, 26.6, anchor="left")
text("ES", 1496, 617, 26.6, angle=-90)
text("C1", 1592, 778, 26.6); text("C2", 1840, 778, 26.6)
text("Rank in Ordered Dataset", 1716, 866, 14.4, color="#222")

# ---- L
L_TICKS = [-.6,-.4,-.2,0,.2,.4]
xid, yid = axes((1565.3,987.7,1821.7,1242.7),
    dict(range=[-.5,153.3], showticklabels=False, ticks="", showline=True, linecolor="black", linewidth=2.5),
    dict(range=[-.6,.4], tickvals=L_TICKS, ticktext=[f"<b>{v:.1f}</b>" for v in L_TICKS], ticks="outside", ticklen=10, tickwidth=2.5, tickcolor="black",
         showline=True, linecolor="black", linewidth=2.5, zeroline=False, tickfont=dict(family=FONT, size=18.5, color="black")))
n_red = len(L_CCLE)
fig.add_trace(go.Bar(x=list(range(n_red)), y=L_CCLE, width=.82, marker=dict(color="#b32d2d", line=dict(width=0)), xaxis=xid, yaxis=yid, showlegend=False))
fig.add_trace(go.Bar(x=[n_red+L_GAP_BARS+i for i in range(len(L_GDSC))], y=L_GDSC, width=.82, marker=dict(color="#3c3c9c", line=dict(width=0)), xaxis=xid, yaxis=yid, showlegend=False))
fig.add_trace(go.Scatter(x=[-.5,152.5], y=[0,0], mode="lines", line=dict(color="black", width=2.5), xaxis=xid, yaxis=yid, showlegend=False))
text("Sample similarity difference", 1498, 1115, 20.5, bold=True, angle=-90)
text("Each enumeration", 1696, 1265, 20.5, bold=True)
text("P &lt; 0.0001", 1606, 985, 13.6, bold=True)
text("P &lt; 0.0001", 1755, 985, 13.6, bold=True)
hline(1587, 1626, 1000); hline(1736, 1775, 1000.5)
rect(1841.7, 1004, 1869, 1017.7, "#A50000")
rect(1841.7, 1040, 1869, 1053, "#000080")
text("CCLE", 1885, 1011, 20, bold=True, anchor="left")
text("GDSC", 1885, 1047, 20, bold=True, anchor="left")

fig.update_layout(width=W, height=H, margin=dict(l=0, r=0, t=0, b=0, autoexpand=False), paper_bgcolor="white", plot_bgcolor="rgba(0,0,0,0)",
                  showlegend=False, shapes=shapes, annotations=notes, font=dict(family=FONT), **layout)
fig.write_html("out.html", config={"displayModeBar": False}, post_script="document.body.style.margin='0';document.documentElement.style.overflow='hidden';")
